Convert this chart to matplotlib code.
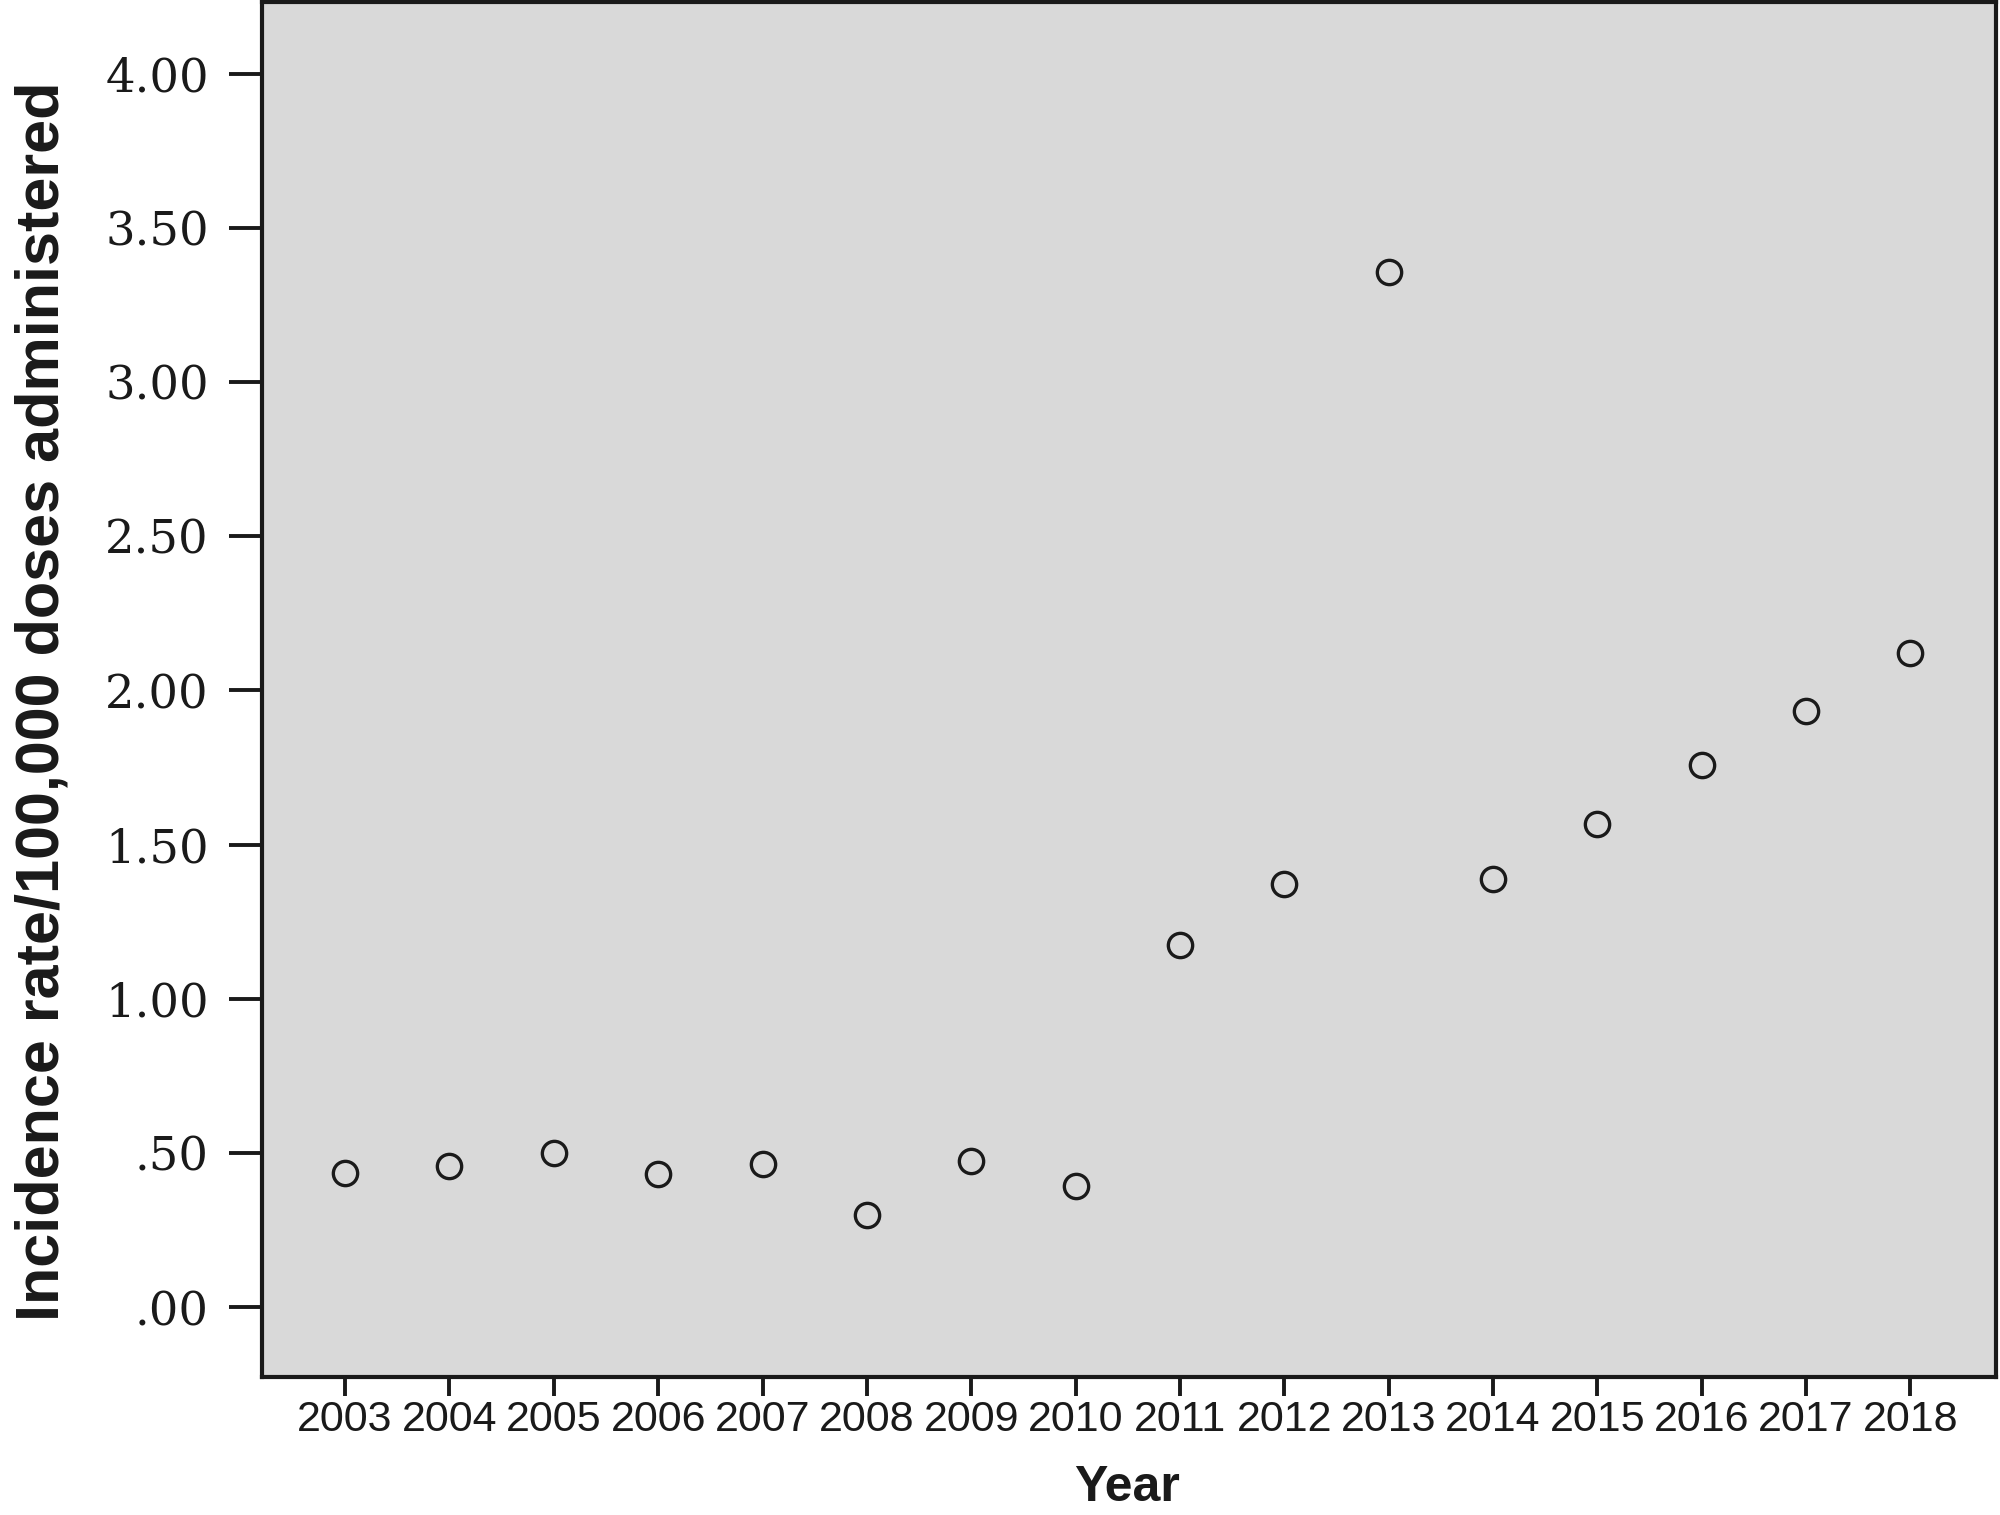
import matplotlib
matplotlib.use("Agg")
import matplotlib.pyplot as plt

years = [2003, 2004, 2005, 2006, 2007, 2008, 2009, 2010,
         2011, 2012, 2013, 2014, 2015, 2016, 2017, 2018]
rates = [0.437, 0.458, 0.499, 0.433, 0.466, 0.301, 0.474, 0.392,
         1.176, 1.374, 3.358, 1.390, 1.568, 1.757, 1.935, 2.120]
y_ticks = [0.0, 0.5, 1.0, 1.5, 2.0, 2.5, 3.0, 3.5, 4.0]
y_tick_labels = [".00", ".50", "1.00", "1.50", "2.00", "2.50", "3.00", "3.50", "4.00"]
x_label = "Year"
y_label = "Incidence rate/100,000 doses administered"

fig = plt.figure(figsize=(20, 15.15), dpi=100)
ax = fig.add_axes([0.1308, 0.0908, 0.998 - 0.1308, 0.9985 - 0.0908])
ax.set_facecolor("#d9d9d9")

ax.plot(years, rates, linestyle="none", marker="o", markersize=17.5,
        markerfacecolor="none", markeredgecolor="#1a1a1a", markeredgewidth=2.4)

ax.set_xlim(2002.2, 2018.82)
ax.set_ylim(-0.227, 4.231)

ax.set_xticks(years)
ax.set_xticklabels([str(y) for y in years],
                   fontfamily=["Liberation Sans Narrow", "Liberation Sans", "DejaVu Sans"],
                   fontsize=31, color="#1a1a1a")
ax.set_yticks(y_ticks)
ax.set_yticklabels(y_tick_labels, fontfamily=["DejaVu Serif"], fontsize=33.5, color="#1a1a1a")

ax.tick_params(axis="y", direction="out", length=24, width=2.8, pad=14, color="#1a1a1a")
ax.tick_params(axis="x", direction="out", length=14, width=2.8, pad=2, color="#1a1a1a")
for s in ax.spines.values():
    s.set_linewidth(3.0)
    s.set_color("#1a1a1a")

fig.text(0.0215, 0.537, y_label, rotation=90, ha="center", va="center",
         fontfamily=["Liberation Sans", "DejaVu Sans"], fontweight="bold",
         fontsize=44, color="#1a1a1a")
fig.text(0.5635, 0.0175, x_label, ha="center", va="center",
         fontfamily=["Liberation Sans", "DejaVu Sans"], fontweight="bold",
         fontsize=36, color="#1a1a1a")

fig.savefig("out.png", dpi=100, facecolor="white")
